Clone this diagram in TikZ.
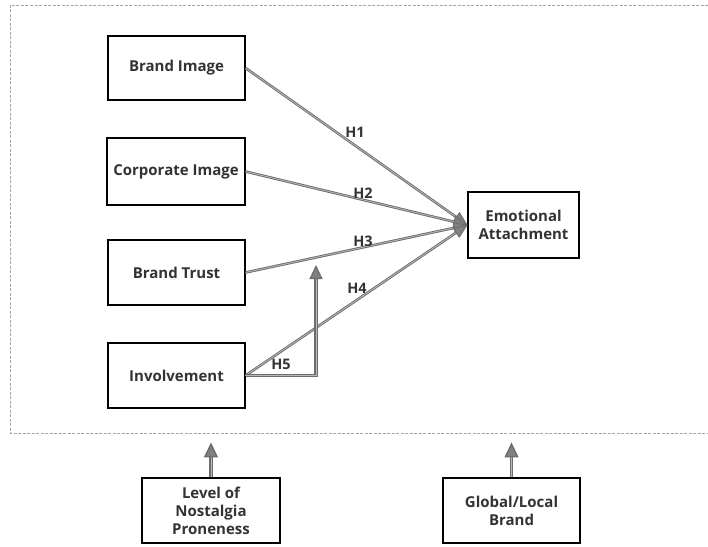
\documentclass[tikz,border=0pt]{standalone}
\usepackage{fontspec}
\setmainfont{Open Sans}
\usetikzlibrary{arrows.meta}

\tikzset{
	construct/.style={draw=black, line width=1.1pt, fill=white, align=center, font=\fontsize{15}{18}\selectfont\bfseries\color{black!80}},
	path/.style={draw=gray!85!black, double=gray!55, double distance=0.8pt, line width=0.9pt, -{Triangle[length=14pt,width=12pt,fill=gray]}},
	hyp/.style={font=\fontsize{14.5}{17}\selectfont\bfseries\color{black!80}}
}

\begin{document}
\begin{tikzpicture}[x=1pt,y=-1pt]
	\useasboundingbox (0,0) rectangle (708,546);
	
	% moderated area
	\draw[gray!70, line width=0.8pt, dash pattern=on 3pt off 1.5pt] (708,5)--(10,5)--(10,433)--(708,433);
	
	\node[construct, minimum width=137pt, minimum height=64pt] (brandimg) at (176.5,68) {Brand Image};
	\node[construct, minimum width=138pt, minimum height=67pt] (corpimg) at (176,171.5) {Corporate Image};
	\node[construct, minimum width=137pt, minimum height=65pt] (trust) at (176.5,272.5) {Brand Trust};
	\node[construct, minimum width=137pt, minimum height=65pt] (involve) at (176.5,375.5) {Involvement};
	\node[construct, minimum width=111pt, minimum height=66pt] (attach) at (523.5,225) {Emotional\\Attachment};
	
	\node[construct, minimum width=138pt, minimum height=65pt] (nostalgia) at (211,510.5) {Level of\\Nostalgia\\Proneness};
	\node[construct, minimum width=137pt, minimum height=65pt] (globloc) at (511.5,510.5) {Global/Local\\Brand};
	
	\coordinate (h5end) at (316,265);
	
	\draw[path] (brandimg.east) -- (attach.west);
	\draw[path] (corpimg.east) -- (attach.west);
	\draw[path] (trust.east) -- (attach.west);
	\draw[path] (involve.east) -- (attach.west);
	\draw[path, line width=1.2pt, -{Triangle[length=14pt,width=13pt,fill=gray]}] (involve.east) -| (h5end);
	
	\draw[path, line width=1.4pt, -{Triangle[length=15pt,width=14pt,fill=gray]}] (nostalgia.north) -- ++(0,-35);
	\draw[path, line width=1.4pt, -{Triangle[length=15pt,width=14pt,fill=gray]}] (globloc.north) -- ++(0,-35);
	
	\node[hyp] (h1) at (355,132) {H1};
	\node[hyp] (h2) at (363,193) {H2};
	\node[hyp] (h3) at (363,241) {H3};
	\node[hyp] (h4) at (357,288) {H4};
	\node[hyp] (h5) at (281,364) {H5};
\end{tikzpicture}
\end{document}
